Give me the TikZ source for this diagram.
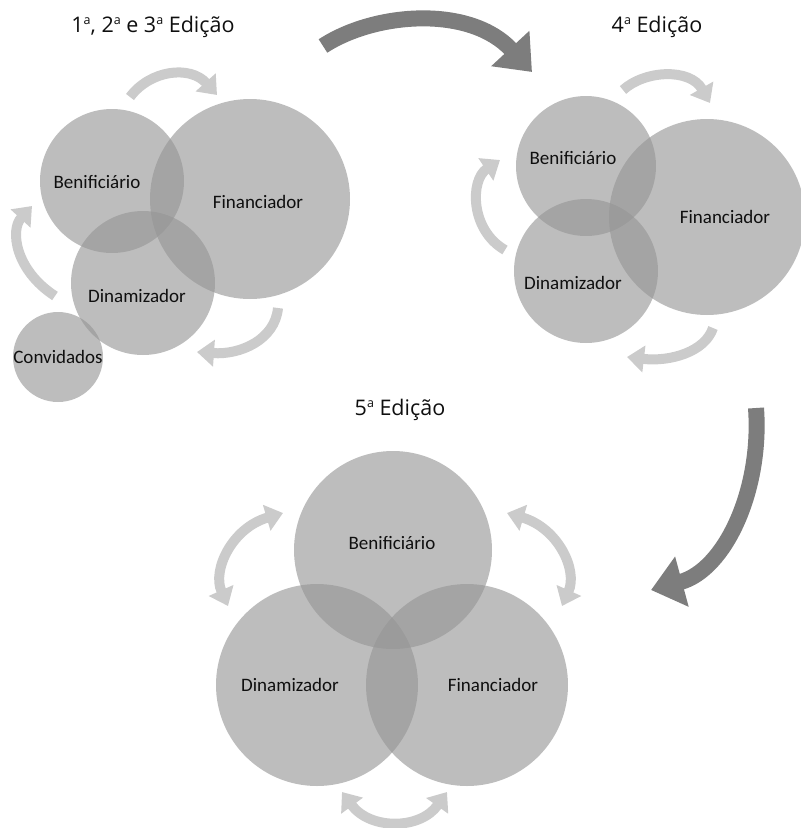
\documentclass[tikz,border=0pt]{standalone}
\usepackage{fontspec}
\setmainfont{Carlito}
\newfontfamily\titlefont{Open Sans}
\usetikzlibrary{arrows.meta}
\definecolor{circfill}{RGB}{149,149,149}
\definecolor{lightarr}{RGB}{203,203,203}
\definecolor{darkarr}{RGB}{125,125,125}
\definecolor{txt}{RGB}{15,15,15}
\newcommand\myord{\raisebox{0.36em}{\fontsize{12.5}{13}\selectfont a}}
\begin{document}
\begin{tikzpicture}[x=1pt,y=-1pt,
  circ/.style={circle,inner sep=0pt,fill=circfill,fill opacity=0.62,draw=none},
  lbl/.style={font=\fontsize{19}{20}\selectfont,text=txt,inner sep=0pt},
  ttl/.style={font=\titlefont\fontsize{21.5}{24}\selectfont,text=txt,inner sep=0pt},
  lightarrow/.style={draw=lightarr,line width=10pt,-{Triangle[width=26pt,length=17pt]}},
  lightdouble/.style={draw=lightarr,line width=10pt,{Triangle[width=26pt,length=17pt]}-{Triangle[width=26pt,length=17pt]}},
  darkarrow/.style={draw=darkarr,line width=16pt,-{Triangle[width=50pt,length=32pt]}}]
\useasboundingbox (0,0) rectangle (801,828);
\clip (0,0) rectangle (801,828);

% ---------- titles ----------
\node[ttl] (t1) at (153,27) {1\myord, 2\myord\ e 3\myord\ Edição};
\node[ttl] (t4) at (657,27) {4\myord\ Edição};
\node[ttl] (t5) at (400,410) {5\myord\ Edição};

% ---------- big dark arrows ----------
\coordinate (d1s) at (323,46);
\coordinate (d1e) at (532,72);
\draw[darkarrow] (d1s) .. controls (375,12) and (470,5) .. (d1e);
\coordinate (d2s) at (756,408);
\coordinate (d2e) at (651,590);
\draw[darkarrow] (d2s) .. controls (762,490) and (725,570) .. (d2e);

% ---------- group 1 (1a, 2a e 3a) ----------
\coordinate (a1s) at (130,97);  \coordinate (a1e) at (217,95);
\draw[lightarrow] (a1s) .. controls (150,70) and (190,65) .. (a1e);
\coordinate (a2s) at (55,296);  \coordinate (a2e) at (32,206);
\draw[lightarrow] (a2s) .. controls (15,270) and (10,230) .. (a2e);
\coordinate (a3s) at (278,308); \coordinate (a3e) at (197,352);
\draw[lightarrow] (a3s) .. controls (275,340) and (240,355) .. (a3e);

\node[circ,minimum size=144pt] (gB) at (112,181) {};
\node[circ,minimum size=200pt] (gF) at (250,199) {};
\node[circ,minimum size=144pt] (gD) at (143,283) {};
\node[circ,minimum size=90pt]  (gC) at (58,357) {};
\node[lbl] (gBl) at (97,182) {Benificiário};
\node[lbl] (gFl) at (258,202) {Financiador};
\node[lbl] (gDl) at (137,296) {Dinamizador};
\node[lbl] (gCl) at (58,357) {Convidados};

% ---------- group 4 ----------
\coordinate (b1s) at (623,90);  \coordinate (b1e) at (710,103);
\draw[lightarrow] (b1s) .. controls (645,70) and (690,68) .. (b1e);
\coordinate (b2s) at (505,250); \coordinate (b2e) at (500,160);
\draw[lightarrow] (b2s) .. controls (470,230) and (470,180) .. (b2e);
\coordinate (b3s) at (713,328); \coordinate (b3e) at (627,357);
\draw[lightarrow] (b3s) .. controls (705,352) and (670,362) .. (b3e);

\node[circ,minimum size=140pt] (hB) at (586,166) {};
\node[circ,minimum size=196pt] (hF) at (707,217) {};
\node[circ,minimum size=144pt] (hD) at (586,271) {};
\node[lbl] (hBl) at (573,158) {Benificiário};
\node[lbl] (hFl) at (725,217) {Financiador};
\node[lbl] (hDl) at (573,283) {Dinamizador};

% ---------- group 5 ----------
\coordinate (c1s) at (228,606); \coordinate (c1e) at (283,513);
\draw[lightdouble] (c1s) .. controls (212,570) and (232,528) .. (c1e);
\coordinate (c2s) at (562,606); \coordinate (c2e) at (507,513);
\draw[lightdouble] (c2s) .. controls (578,570) and (558,528) .. (c2e);
\coordinate (c3s) at (342,792); \coordinate (c3e) at (447,792);
\draw[lightdouble] (c3s) .. controls (370,830) and (420,830) .. (c3e);

\node[circ,minimum size=198pt] (kB) at (393,550) {};
\node[circ,minimum size=202pt] (kD) at (317,685) {};
\node[circ,minimum size=202pt] (kF) at (467,685) {};
\node[lbl] (kBl) at (392,543) {Benificiário};
\node[lbl] (kDl) at (290,685) {Dinamizador};
\node[lbl] (kFl) at (493,685) {Financiador};
\end{tikzpicture}
\end{document}
